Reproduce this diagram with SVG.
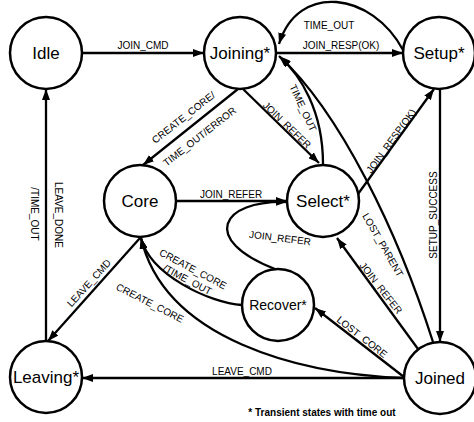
<svg xmlns="http://www.w3.org/2000/svg" width="474" height="422" viewBox="0 0 474 422">
  <defs>
    <marker id="arrow" viewBox="0 0 11 8" refX="11" refY="4" markerWidth="11" markerHeight="8" markerUnits="userSpaceOnUse" orient="auto">
      <path d="M0,0 L11,4 L0,8 z" fill="#000"/>
    </marker>
    <style>
      .node circle { fill: #fff; stroke: #000; stroke-width: 2.5; }
      .node text { font-family: "Liberation Sans", Arial, sans-serif; font-size: 17px; text-anchor: middle; fill: #000; }
      .edge { fill: none; stroke: #000; stroke-width: 2.3; marker-end: url(#arrow); }
      .lbl { font-family: "Liberation Sans", Arial, sans-serif; font-size: 10px; text-anchor: middle; fill: #000; }
      .note { font-family: "Liberation Sans", Arial, sans-serif; font-size: 10px; font-weight: bold; text-anchor: middle; fill: #000; }
    </style>
  </defs>
  <rect width="474" height="422" fill="#fff"/>

  <!-- transitions -->
  <g id="connectors">
    <path class="edge" d="M82,53 L204,53"/>
    <path class="edge" d="M276,53 L403,53"/>
    <path class="edge" d="M403,50 C372,-8 298,-18 279,44"/>
    <path class="edge" d="M238,89 L143,165"/>
    <path class="edge" d="M243,89 L319,163"/>
    <path class="edge" d="M323,164 C323,110 300,75 280,57"/>
    <path class="edge" d="M433,342 C398,232 340,112 279,56"/>
    <path class="edge" d="M358,194 L434,89"/>
    <path class="edge" d="M440,89 L440,342"/>
    <path class="edge" d="M176,201 L287,201"/>
    <path class="edge" d="M275,269 C200,240 220,200 287,202"/>
    <path class="edge" d="M242,305 C210,303 150,275 141,238"/>
    <path class="edge" d="M404,378 C300,374 165,340 141,238"/>
    <path class="edge" d="M140,238 L48,341"/>
    <path class="edge" d="M46,341 L46,89"/>
    <path class="edge" d="M404,378 L82,378"/>
    <path class="edge" d="M404,377 L315,308"/>
    <path class="edge" d="M418,349 L337,238"/>

    <text class="lbl" x="143" y="49">JOIN_CMD</text>
    <text class="lbl" x="341" y="49">JOIN_RESP(OK)</text>
    <text class="lbl" x="329" y="29">TIME_OUT</text>
    <text class="lbl" transform="translate(183.5,117.5) rotate(-38)" y="3.5">CREATE_CORE/</text>
    <text class="lbl" transform="translate(199.5,136.5) rotate(-38)" y="3.5">TIME_OUT/ERROR</text>
    <text class="lbl" transform="translate(287,125) rotate(44)" y="3.5">JOIN_REFER</text>
    <text class="lbl" transform="translate(303,108) rotate(65)" y="3.5">TIME_OUT</text>
    <text class="lbl" transform="translate(383,245) rotate(60)" y="3.5">LOST_PARENT</text>
    <text class="lbl" transform="translate(391,141) rotate(-54)" y="3.5">JOIN_RESP(OK)</text>
    <text class="lbl" transform="translate(433,215) rotate(-90)" y="3.5">SETUP_SUCCESS</text>
    <text class="lbl" x="231" y="198">JOIN_REFER</text>
    <text class="lbl" transform="translate(280,238) rotate(7)" y="3.5">JOIN_REFER</text>
    <text class="lbl" transform="translate(193,269) rotate(28)" y="3.5">CREATE_CORE</text>
    <text class="lbl" transform="translate(187.4,279.6) rotate(28)" y="3.5">/TIME_OUT</text>
    <text class="lbl" transform="translate(150,303) rotate(27)" y="3.5">CREATE_CORE</text>
    <text class="lbl" transform="translate(89,283) rotate(-48)" y="3.5">LEAVE_CMD</text>
    <text class="lbl" transform="translate(58,215) rotate(90)" y="3.5">LEAVE_DONE</text>
    <text class="lbl" transform="translate(34,214) rotate(90)" y="3.5">/TIME_OUT</text>
    <text class="lbl" x="242" y="375">LEAVE_CMD</text>
    <text class="lbl" transform="translate(362,337) rotate(38)" y="3.5">LOST_CORE</text>
    <text class="lbl" transform="translate(381,288) rotate(52)" y="3.5">JOIN_REFER</text>
  </g>

  <!-- states -->
  <g id="idle" class="node"><circle cx="46" cy="53" r="36"/><text x="46" y="59">Idle</text></g>
  <g id="joining" class="node"><circle cx="240" cy="53" r="36"/><text x="240" y="59">Joining*</text></g>
  <g id="setup" class="node"><circle cx="439" cy="53" r="36"/><text x="439" y="59">Setup*</text></g>
  <g id="core" class="node"><circle cx="140" cy="201" r="36"/><text x="140" y="207">Core</text></g>
  <g id="select" class="node"><circle cx="323" cy="201" r="36"/><text x="323" y="207">Select*</text></g>
  <g id="recover" class="node"><circle cx="278" cy="305" r="36"/><text x="278" y="310" style="font-size:14px">Recover*</text></g>
  <g id="leaving" class="node"><circle cx="46" cy="377" r="36"/><text x="46" y="383">Leaving*</text></g>
  <g id="joined" class="node"><circle cx="440" cy="378" r="36"/><text x="440" y="384">Joined</text></g>

  <text class="note" x="322" y="416">* Transient states with time out</text>
</svg>
